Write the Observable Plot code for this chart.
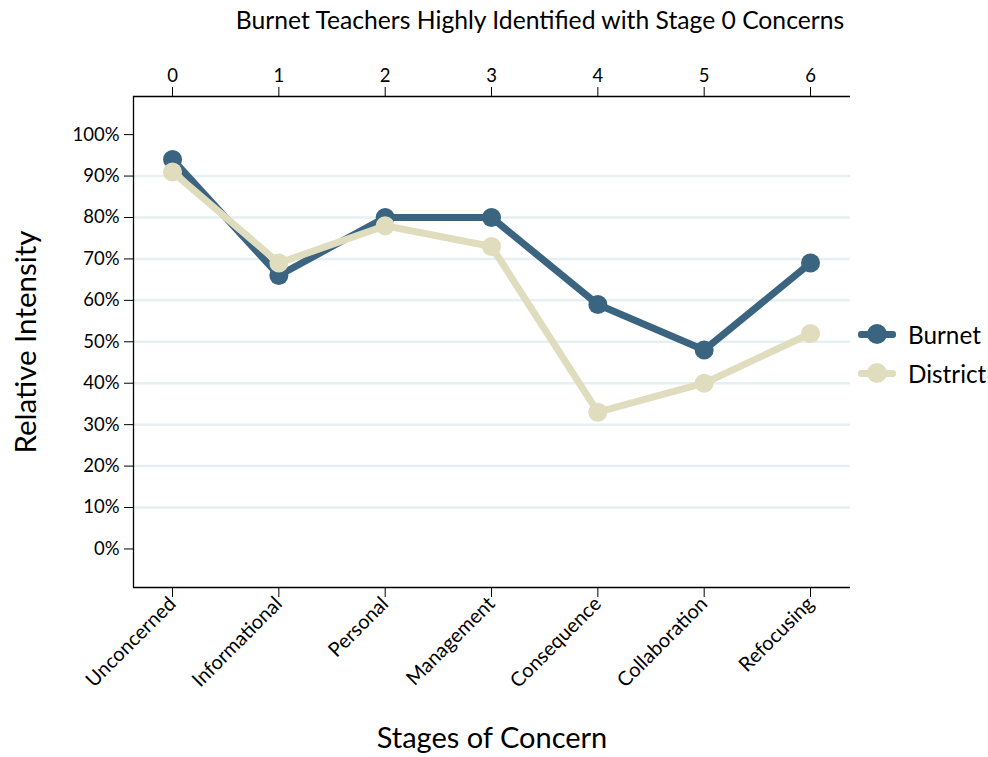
<!DOCTYPE html>
<html>
<head>
<meta charset="utf-8">
<script src="https://cdn.jsdelivr.net/npm/d3@7"></script>
<script src="https://cdn.jsdelivr.net/npm/@observablehq/plot@0.6"></script>
<style>
  body { margin: 0; background: #fff; font-family: Lato, sans-serif; }
  #wrap { position: relative; width: 988px; height: 757px; }
  #wrap svg { position: absolute; left: 0; top: 0; }
  .abs { position: absolute; white-space: nowrap; color: #000; }
  #title { left: 540px; top: 8px; transform: translateX(-50%); font-size: 24.7px; line-height: 24px; }
  #xlabel { left: 492px; top: 722px; transform: translateX(-50%); font-size: 29px; line-height: 29px; }
  #ylabel { left: 24px; top: 342px; transform: translate(-50%, -50%) rotate(-90deg); font-size: 29.5px; line-height: 29px; }
  .leg { position: absolute; left: 858px; height: 26px; display: flex; align-items: center; font-size: 24.3px; }
  .sw { position: relative; width: 38px; height: 24px; margin-right: 12px; }
  .sw .ln { position: absolute; left: 0; right: 0; top: 9px; height: 7px; border-radius: 3px; }
  .sw .dt { position: absolute; left: 9px; top: 2px; width: 20px; height: 20px; border-radius: 50%; }
</style>
</head>
<body>
<div id="wrap">
  <div id="chart"></div>
  <div class="abs" id="title">Burnet Teachers Highly Identified with Stage 0 Concerns</div>
  <div class="abs" id="xlabel">Stages of Concern</div>
  <div class="abs" id="ylabel">Relative Intensity</div>
  <div class="leg" id="leg1" style="top:321px"><div class="sw"><div class="ln" style="background:#3b6480"></div><div class="dt" style="background:#3b6480"></div></div><span>Burnet</span></div>
  <div class="leg" id="leg2" style="top:360px"><div class="sw"><div class="ln" style="background:#e0ddbf"></div><div class="dt" style="background:#e0ddbf"></div></div><span>District</span></div>
</div>
<script>
const stages = [0, 1, 2, 3, 4, 5, 6];
const categories = ["Unconcerned", "Informational", "Personal", "Management", "Consequence", "Collaboration", "Refocusing"];
const burnet = [94, 66, 80, 80, 59, 48, 69];
const district = [91, 69, 78, 73, 33, 40, 52];
const yTicks = [0, 10, 20, 30, 40, 50, 60, 70, 80, 90, 100];
const gridLines = [10, 20, 30, 40, 50, 60, 70, 80, 90];

const burnetData = stages.map((s, i) => ({stage: s, value: burnet[i]}));
const districtData = stages.map((s, i) => ({stage: s, value: district[i]}));

const xDomain = [-0.367, 6.376];
const yDomain = [-9.3, 109.2];
const cB = "#3b6480", cD = "#e0ddbf";

const chart = Plot.plot({
  width: 988,
  height: 757,
  marginLeft: 133,
  marginRight: 138,
  marginTop: 96,
  marginBottom: 170,
  style: {fontFamily: "Lato, sans-serif", fontSize: "18.5px", color: "#000", background: "transparent"},
  x: {domain: xDomain},
  y: {domain: yDomain},
  marks: [
    Plot.ruleY(gridLines, {stroke: "#e6eff2", strokeWidth: 2.5}),
    Plot.ruleX([xDomain[0]], {stroke: "#000", strokeWidth: 1.3}),
    Plot.ruleY([yDomain[0], yDomain[1]], {stroke: "#000", strokeWidth: 1.3}),
    Plot.axisX({anchor: "top", ticks: stages, tickFormat: d => String(d), tickSize: 10, tickPadding: 5, label: null}),
    Plot.axisX({anchor: "bottom", ticks: stages, tickFormat: d => categories[d], tickSize: 10, tickPadding: 3, tickRotate: -45, fontSize: 20, label: null}),
    Plot.axisY({ticks: yTicks, tickFormat: d => d + "%", tickSize: 9, tickPadding: 5, label: null}),
    Plot.line(burnetData, {x: "stage", y: "value", stroke: cB, strokeWidth: 7, strokeLinejoin: "round"}),
    Plot.dot(burnetData, {x: "stage", y: "value", r: 9.5, fill: cB}),
    Plot.line(districtData, {x: "stage", y: "value", stroke: cD, strokeWidth: 7, strokeLinejoin: "round"}),
    Plot.dot(districtData, {x: "stage", y: "value", r: 9.5, fill: cD})
  ]
});
document.getElementById("chart").appendChild(chart);
</script>
</body>
</html>
